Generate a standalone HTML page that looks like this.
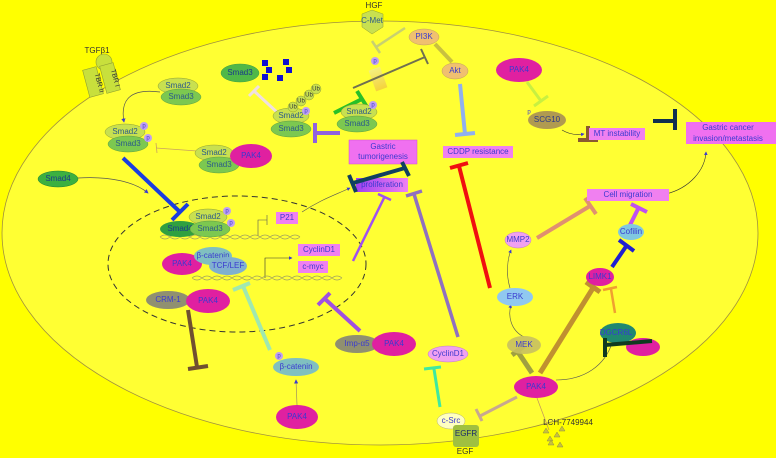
<!DOCTYPE html>
<html><head><meta charset="utf-8"><style>
html,body{margin:0;padding:0;background:#ffff00;}
svg{display:block;font-family:"Liberation Sans",sans-serif;}
.t{font-size:8px;fill:#3a3ad0;text-anchor:middle;dominant-baseline:middle;}
.k{font-size:8px;fill:#333;text-anchor:middle;dominant-baseline:middle;}
</style></head><body>
<svg width="776" height="458" viewBox="0 0 776 458">
<defs>
<marker id="ar" markerWidth="6" markerHeight="6" refX="5" refY="3" orient="auto"><path d="M0,0 L6,3 L0,6z" fill="#3a3ad0"/></marker>
<linearGradient id="pg" x1="0" x2="1"><stop offset="0" stop-color="#a040f0"/><stop offset="1" stop-color="#f080f0"/></linearGradient>
<linearGradient id="og" x1="0" x2="0" y1="0" y2="1"><stop offset="0" stop-color="#f0e8a0"/><stop offset="1" stop-color="#f0c040"/></linearGradient>
</defs>
<rect width="776" height="458" fill="#ffff00"/>
<ellipse cx="380" cy="233" rx="378" ry="212" fill="#ffff33" stroke="#a09040" stroke-width="0.8"/>
<ellipse cx="237" cy="264" rx="129" ry="68" fill="none" stroke="#333" stroke-width="1" stroke-dasharray="6,4"/>

<!-- TGF receptor -->
<g>
<text x="97" y="51" class="k">TGFβ1</text>
<circle cx="104" cy="62" r="8" fill="#c8e03c" stroke="#90a030" stroke-width="0.6"/>
<rect x="86" y="68" width="14" height="28" fill="#c8e03c" stroke="#90a030" stroke-width="0.6" transform="rotate(-15 93 82)"/>
<rect x="103" y="64" width="14" height="28" fill="#c8e03c" stroke="#90a030" stroke-width="0.6" transform="rotate(-15 110 78)"/>
<text x="99" y="83" class="k" transform="rotate(75 99 83)" style="font-size:7px">TBR II</text>
<text x="115" y="78" class="k" transform="rotate(75 115 78)" style="font-size:7px">TBR I</text>
</g>

<!-- lines / inhibitors -->
<g stroke-linecap="butt" fill="none">
<path d="M160,92 C130,88 120,100 124,122" stroke="#555" stroke-width="0.7" marker-end="url(#ar)"/>
<path d="M78,178 C110,176 135,182 148,193" stroke="#555" stroke-width="0.7" marker-end="url(#ar)"/>
<path d="M197,151 L156,148 M156,143 L157,153" stroke="#c8a060" stroke-width="0.8"/>
<path d="M123,158 L180,212 M172,220 L188,204" stroke="#1a3ce0" stroke-width="4"/>
<path d="M280,115 L254,91 M249,96 L259,86" stroke="#f0e0e0" stroke-width="3"/>
<path d="M334,113 L362,99 M357,91 L367,107" stroke="#28c028" stroke-width="4"/>
<path d="M340,133 L315,133 M315,123 L315,143" stroke="#9060e0" stroke-width="4"/>
<path d="M405,28 L376,47 M372,41 L380,53" stroke="#c8d070" stroke-width="2.5"/>
<rect x="372" y="68" width="12" height="22" fill="url(#og)" opacity="0.7" transform="rotate(-20 378 79)"/>
<path d="M353,88 L425,57 M421,49 L428,64" stroke="#707050" stroke-width="2"/>
<path d="M435,44 L452,62" stroke="#c8c040" stroke-width="4"/>
<path d="M460,84 L465,134 M455,135 L475,133" stroke="#90b0f0" stroke-width="4"/>
<path d="M527,82 L541,101 M534,106 L548,96" stroke="#c8f040" stroke-width="3"/>
<path d="M562,130 C570,135 578,135 584,134" stroke="#333" stroke-width="0.6" marker-end="url(#ar)"/>
<path d="M588,126 L588,140 M578,140 L598,140" stroke="#8a5a30" stroke-width="4"/>
<path d="M653,121 L675,121 M675,109 L675,130" stroke="#103050" stroke-width="4"/>
<path d="M666,194 C690,188 705,170 706,152" stroke="#333" stroke-width="0.6" marker-end="url(#ar)"/>
<path d="M537,238 L590,206 M585,198 L596,214" stroke="#e09070" stroke-width="4"/>
<path d="M630,225 L639,207 M631,204 L647,212" stroke="#c050f0" stroke-width="4"/>
<path d="M612,267 L627,245 M619,240 L634,251" stroke="#2020d0" stroke-width="4"/>
<path d="M615,313 L611,289 M603,290 L617,287" stroke="#f0a030" stroke-width="2.5"/>
<path d="M540,373 L593,288 M586,282 L600,292" stroke="#c09030" stroke-width="5"/>
<path d="M532,373 L518,352 M512,355 L524,346" stroke="#a0a040" stroke-width="5"/>
<path d="M517,397 L480,416 M476,409 L482,421" stroke="#c8a890" stroke-width="3"/>
<path d="M556,380 C585,380 605,365 612,343" stroke="#555" stroke-width="0.6"/>
<path d="M524,337 C510,330 508,315 511,305" stroke="#555" stroke-width="0.6" marker-end="url(#ar)"/>
<path d="M510,288 C506,275 507,260 511,250" stroke="#555" stroke-width="0.6" marker-end="url(#ar)"/>
<path d="M490,288 L459,166 M450,168 L468,163" stroke="#f01010" stroke-width="4"/>
<path d="M458,337 L414,194 M406,196 L422,191" stroke="#9070c0" stroke-width="3.5"/>
<path d="M353,261 L384,198 M378,194 L391,200" stroke="#a050f0" stroke-width="2.5"/>
<path d="M360,331 L325,299 M318,305 L330,293" stroke="#a050e0" stroke-width="4"/>
<path d="M270,350 L243,286 M233,290 L250,283" stroke="#a0e8b0" stroke-width="4"/>
<path d="M188,310 L197,367 M188,369 L208,366" stroke="#705030" stroke-width="4"/>
<path d="M440,407 L434,369 M424,369 L441,367" stroke="#40e8a0" stroke-width="3"/>
<path d="M297,405 L296,380" stroke="#a09060" stroke-width="0.7" marker-end="url(#ar)"/>
<path d="M537,398 L549,430" stroke="#c09060" stroke-width="0.7"/>
<path d="M302,212 C320,200 335,195 350,188" stroke="#555" stroke-width="0.6" marker-end="url(#ar)"/>
<path d="M258,236 L258,220 L267,220 M267,215 L267,225" stroke="#555" stroke-width="0.6"/>
<path d="M265,278 L265,258 L292,258" stroke="#333" stroke-width="0.6" marker-end="url(#ar)"/>
<path d="M160,237 q5,-4 10,0 t10,0 t10,0 t10,0 t10,0 t10,0 t10,0 t10,0 t10,0 t10,0 t10,0 t10,0 t10,0 t10,0 M160,237 q5,4 10,0 t10,0 t10,0 t10,0 t10,0 t10,0 t10,0 t10,0 t10,0 t10,0 t10,0 t10,0 t10,0 t10,0" stroke="#a0a060" stroke-width="0.7"/>
<path d="M192,278 q5,-4 10,0 t10,0 t10,0 t10,0 t10,0 t10,0 t10,0 t10,0 t10,0 t10,0 t10,0 t10,0 t10,0 t10,0 t10,0 M192,278 q5,4 10,0 t10,0 t10,0 t10,0 t10,0 t10,0 t10,0 t10,0 t10,0 t10,0 t10,0 t10,0 t10,0 t10,0 t10,0" stroke="#a0a060" stroke-width="0.7"/>
</g>

<!-- blue squares -->
<g fill="#1010d0">
<rect x="262" y="60" width="6" height="6"/><rect x="266" y="67" width="6" height="6"/><rect x="262" y="74" width="6" height="6"/>
<rect x="283" y="59" width="6" height="6"/><rect x="286" y="67" width="6" height="6"/><rect x="277" y="75" width="6" height="6"/>
</g>

<!-- nodes -->
<g stroke-width="0.5">
<ellipse cx="178" cy="86" rx="20" ry="8" fill="#c8e050" stroke="#90a030"/><text x="178" y="86" class="t" style="fill:#2a5a8a">Smad2</text>
<ellipse cx="181" cy="97" rx="20" ry="8" fill="#7cc850" stroke="#60a040"/><text x="181" y="97" class="t" style="fill:#2a5a8a">Smad3</text>
<ellipse cx="125" cy="132" rx="20" ry="8" fill="#c8e050" stroke="#90a030"/><text x="125" y="132" class="t" style="fill:#2a5a8a">Smad2</text>
<ellipse cx="128" cy="144" rx="20" ry="8" fill="#7cc850" stroke="#60a040"/><text x="128" y="144" class="t" style="fill:#2a5a8a">Smad3</text>
<circle cx="144" cy="126" r="4" fill="#c0a0f0"/><text x="144" y="126" class="t" style="font-size:6px">p</text>
<circle cx="148" cy="138" r="4" fill="#c0a0f0"/><text x="148" y="138" class="t" style="font-size:6px">p</text>
<ellipse cx="214" cy="153" rx="19" ry="8" fill="#c8e050" stroke="#90a030"/><text x="214" y="153" class="t" style="fill:#2a5a8a">Smad2</text>
<ellipse cx="219" cy="165" rx="20" ry="8" fill="#7cc850" stroke="#60a040"/><text x="219" y="165" class="t" style="fill:#2a5a8a">Smad3</text>
<ellipse cx="251" cy="156" rx="21" ry="12" fill="#e020a0"/><text x="251" y="156" class="t">PAK4</text>
<ellipse cx="58" cy="179" rx="20" ry="8" fill="#3cb040" stroke="#208030"/><text x="58" y="179" class="t" style="fill:#1a3a8a">Smad4</text>
<ellipse cx="240" cy="73" rx="19" ry="9" fill="#50b848" stroke="#40a040"/><text x="240" y="73" class="t" style="fill:#1a3a8a">Smad3</text>
<ellipse cx="291" cy="116" rx="18" ry="8" fill="#c8e050" stroke="#90a030"/><text x="291" y="116" class="t" style="fill:#2a5a8a">Smad2</text>
<ellipse cx="291" cy="129" rx="20" ry="8" fill="#7cc850" stroke="#60a040"/><text x="291" y="129" class="t" style="fill:#2a5a8a">Smad3</text>
<circle cx="306" cy="111" r="4" fill="#c0a0f0"/><text x="306" y="111" class="t" style="font-size:6px">p</text>
<g fill="#c8e050" stroke="#90a030">
<circle cx="293" cy="107" r="5"/><circle cx="301" cy="101" r="5"/><circle cx="309" cy="95" r="5"/><circle cx="316" cy="89" r="5"/>
<text x="293" y="107" class="k" style="font-size:6px;stroke:none">Ub</text><text x="301" y="101" class="k" style="font-size:6px;stroke:none">Ub</text><text x="309" y="95" class="k" style="font-size:6px;stroke:none">Ub</text><text x="316" y="89" class="k" style="font-size:6px;stroke:none">Ub</text></g>
<ellipse cx="359" cy="112" rx="18" ry="8" fill="#c8e050" stroke="#90a030"/><text x="359" y="112" class="t" style="fill:#2a5a8a">Smad2</text>
<ellipse cx="357" cy="124" rx="20" ry="8" fill="#7cc850" stroke="#60a040"/><text x="357" y="124" class="t" style="fill:#2a5a8a">Smad3</text>
<circle cx="373" cy="105" r="4" fill="#c0a0f0"/><text x="373" y="105" class="t" style="font-size:6px">p</text>
<circle cx="375" cy="61" r="4" fill="#c0a0f0"/><text x="375" y="61" class="t" style="font-size:6px">p</text>
<text x="374" y="6" class="k">HGF</text>
<path d="M362,14 L372,10 L383,14 L383,27 L372,34 L362,27z" fill="#c8e050" stroke="#90a030"/><text x="372" y="21" class="t" style="fill:#2a5a8a">C-Met</text>
<ellipse cx="424" cy="37" rx="15" ry="8" fill="#f0c070" stroke="#c0a060"/><text x="424" y="37" class="t">PI3K</text>
<ellipse cx="455" cy="71" rx="13" ry="8" fill="#f0c070" stroke="#c0a060"/><text x="455" y="71" class="t">Akt</text>
<ellipse cx="519" cy="70" rx="23" ry="12" fill="#e020a0"/><text x="519" y="70" class="t">PAK4</text>
<ellipse cx="547" cy="120" rx="19" ry="9" fill="#b09a50"/><text x="547" y="120" class="t" style="fill:#2a3a8a">SCG10</text>
<text x="529" y="112" class="t" style="font-size:6px">p</text>
<ellipse cx="168" cy="300" rx="22" ry="9" fill="#909070"/><text x="168" y="300" class="t">CRM-1</text>
<ellipse cx="208" cy="301" rx="22" ry="12" fill="#e020a0"/><text x="208" y="301" class="t">PAK4</text>
<ellipse cx="182" cy="264" rx="20" ry="11" fill="#e020a0"/><text x="182" y="264" class="t">PAK4</text>
<ellipse cx="213" cy="256" rx="19" ry="9" fill="#80c0c0"/><text x="213" y="256" class="t">β-catenin</text>
<ellipse cx="228" cy="266" rx="19" ry="9" fill="#80b0d0"/><text x="228" y="266" class="t">TCF/LEF</text>
<ellipse cx="180" cy="229" rx="20" ry="8" fill="#30a040"/><text x="180" y="229" class="t" style="fill:#1a3a8a">Smad4</text>
<ellipse cx="208" cy="217" rx="19" ry="8" fill="#c8e050" stroke="#90a030"/><text x="208" y="217" class="t" style="fill:#2a5a8a">Smad2</text>
<ellipse cx="210" cy="229" rx="20" ry="8" fill="#7cc850" stroke="#60a040"/><text x="210" y="229" class="t" style="fill:#2a5a8a">Smad3</text>
<circle cx="227" cy="211" r="4" fill="#c0a0f0"/><text x="227" y="211" class="t" style="font-size:6px">p</text>
<circle cx="231" cy="223" r="4" fill="#c0a0f0"/><text x="231" y="223" class="t" style="font-size:6px">p</text>
<ellipse cx="357" cy="344" rx="22" ry="9" fill="#909070"/><text x="357" y="344" class="t">Imp-α5</text>
<ellipse cx="394" cy="344" rx="22" ry="12" fill="#e020a0"/><text x="394" y="344" class="t">PAK4</text>
<circle cx="279" cy="356" r="4" fill="#c0a0f0"/><text x="279" y="356" class="t" style="font-size:6px">p</text>
<ellipse cx="296" cy="367" rx="23" ry="9" fill="#80c0c0"/><text x="296" y="367" class="t">β-catenin</text>
<ellipse cx="297" cy="417" rx="21" ry="12" fill="#e020a0"/><text x="297" y="417" class="t">PAK4</text>
<ellipse cx="448" cy="354" rx="20" ry="8" fill="#f0a0f0" stroke="#c080c0"/><text x="448" y="354" class="t">CyclinD1</text>
<ellipse cx="451" cy="421" rx="14" ry="8" fill="#ffffc0" stroke="#b0b080"/><text x="451" y="421" class="t">c-Src</text>
<rect x="453" y="425" width="26" height="22" rx="3" fill="#a0c040"/><text x="466" y="434" class="t" style="fill:#1a2a6a">EGFR</text>
<text x="465" y="452" class="k">EGF</text>
<ellipse cx="518" cy="240" rx="13" ry="8" fill="#f0a0f0" stroke="#c080c0"/><text x="518" y="240" class="t">MMP2</text>
<ellipse cx="515" cy="297" rx="18" ry="9" fill="#90c8f0"/><text x="515" y="297" class="t">ERK</text>
<ellipse cx="524" cy="345" rx="17" ry="9" fill="#c8c060" opacity="0.9"/><text x="524" y="345" class="t">MEK</text>
<ellipse cx="631" cy="232" rx="13" ry="8" fill="#80c8e0"/><text x="631" y="232" class="t">Cofilin</text>
<ellipse cx="600" cy="277" rx="14" ry="9" fill="#e020a0"/><text x="600" y="277" class="t">LIMK1</text>
<ellipse cx="618" cy="333" rx="18" ry="10" fill="#208870"/><text x="616" y="333" class="t">DGCR6L</text>
<ellipse cx="643" cy="347" rx="17" ry="9" fill="#e020a0"/>
<path d="M605,357 L605,338 M605,345 L652,341" stroke="#103a20" stroke-width="4" fill="none"/>
<ellipse cx="536" cy="387" rx="22" ry="11" fill="#e020a0"/><text x="536" y="387" class="t">PAK4</text>
<text x="568" y="423" class="k">LCH-7749944</text>
<g fill="#c8c040" stroke="#909040">
<path d="M543,433 l3,-5 l3,5z"/><path d="M547,441 l3,-5 l3,5z"/><path d="M554,437 l3,-5 l3,5z"/><path d="M559,431 l3,-5 l3,5z"/><path d="M557,447 l3,-5 l3,5z"/><path d="M548,445 l3,-5 l3,5z"/>
</g>
</g>

<!-- labels (rect) -->
<g>
<rect x="349" y="140" width="68" height="24" fill="#f070f0" stroke="#d050d0" stroke-width="0.5"/>
<text x="383" y="147" class="t">Gastric</text><text x="383" y="157" class="t">tumorigenesis</text>
<rect x="356" y="178" width="52" height="14" fill="url(#pg)"/><text x="382" y="185" class="t">proliferation</text>
<path d="M353,183 L405,168 M349,175 L356,192 M402,162 L409,176" stroke="#104060" stroke-width="4" fill="none"/>
<rect x="443" y="146" width="70" height="12" fill="#f080f0"/><text x="478" y="152" class="t">CDDP resistance</text>
<rect x="589" y="128" width="56" height="12" fill="#f080f0"/><text x="617" y="134" class="t">MT instability</text>
<rect x="686" y="122" width="95" height="22" fill="#f070f0"/>
<text x="728" y="128" class="t">Gastric cancer</text><text x="728" y="139" class="t">invasion/metastasis</text>
<rect x="587" y="189" width="82" height="12" fill="#f080f0"/><text x="628" y="195" class="t">Cell migration</text>
<rect x="276" y="212" width="22" height="12" fill="#f080f0"/><text x="287" y="218" class="t">P21</text>
<rect x="298" y="244" width="42" height="12" fill="#f080f0"/><text x="319" y="250" class="t">CyclinD1</text>
<rect x="298" y="261" width="30" height="12" fill="#f080f0"/><text x="313" y="267" class="t">c-myc</text>
</g>
</svg>
</body></html>
